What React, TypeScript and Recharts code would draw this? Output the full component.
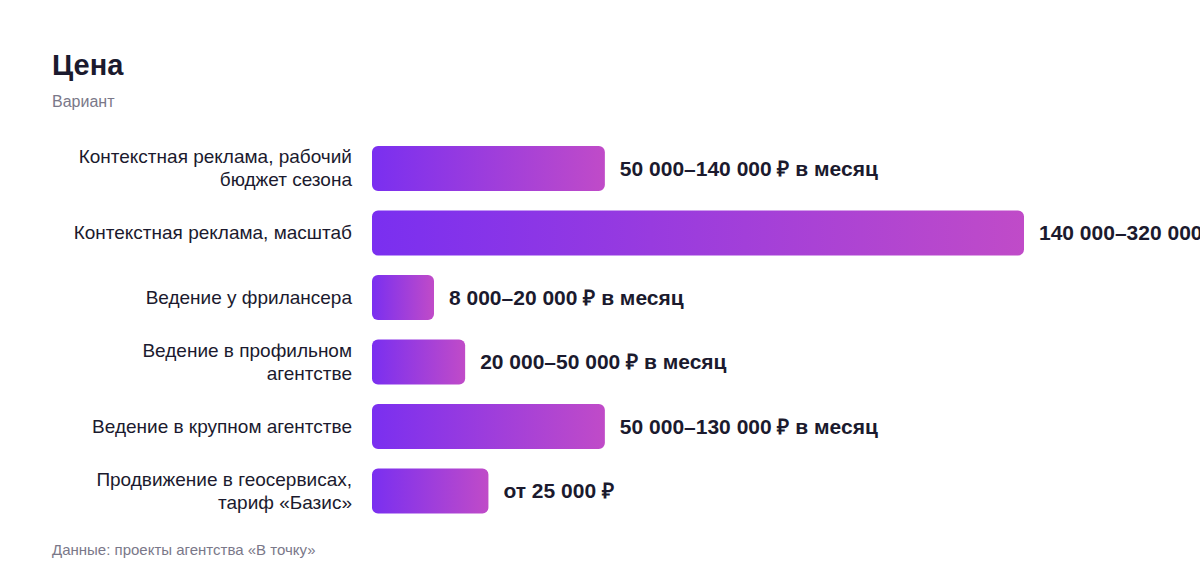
import React from 'react';
import { BarChart, Bar, XAxis, YAxis, LabelList } from 'recharts';

// categories (line breaks as in the picture)
const categories = [
  'Контекстная реклама, рабочий\nбюджет сезона',
  'Контекстная реклама, масштаб',
  'Ведение у фрилансера',
  'Ведение в профильном\nагентстве',
  'Ведение в крупном агентстве',
  'Продвижение в геосервисах,\nтариф «Базис»',
];

// lower bound of each price range, ₽
const priceFrom = [50000, 140000, 8000, 20000, 50000, 25000];

const priceLabels = [
  '50 000–140 000 ₽ в месяц',
  '140 000–320 000 ₽ в месяц',
  '8 000–20 000 ₽ в месяц',
  '20 000–50 000 ₽ в месяц',
  '50 000–130 000 ₽ в месяц',
  'от 25 000 ₽',
];

const data = categories.map((name, i) => ({ name, value: priceFrom[i], label: priceLabels[i] }));

const FONT = '"Liberation Sans", Arial, sans-serif';
const DARK = '#1b1a2e';
const GREY = '#7a7889';

const CategoryTick = (props: any) => {
  const { x, y, payload } = props;
  const lines: string[] = String(payload.value).split('\n');
  const lh = 23;
  const start = y - ((lines.length - 1) * lh) / 2;
  return (
    <text x={x} y={start} textAnchor="end" fontSize={19} fill={DARK} fontFamily={FONT}>
      {lines.map((l, i) => (
        <tspan key={i} x={x} y={start + i * lh} dy="0.35em">
          {l}
        </tspan>
      ))}
    </text>
  );
};

const ValueLabel = (props: any) => {
  const { x, y, width, height, value } = props;
  return (
    <text
      x={x + width + 15}
      y={y + height / 2}
      dy="0.35em"
      fontSize={21}
      fontWeight={700}
      fill={DARK}
      fontFamily={FONT}
    >
      {value}
    </text>
  );
};

export default function App() {
  return (
    <div style={{ position: 'absolute', left: 0, top: 0, width: 1200, height: 584, overflow: 'hidden', background: '#fff', fontFamily: FONT }}>
      <div style={{ position: 'absolute', left: 52, top: 49, fontSize: 29, lineHeight: 1.15, fontWeight: 700, color: DARK }}>Цена</div>
      <div style={{ position: 'absolute', left: 52, top: 93, fontSize: 16, lineHeight: 1.15, color: GREY }}>Вариант</div>
      <BarChart
        width={1200}
        height={584}
        data={data}
        layout="vertical"
        margin={{ top: 136, right: 176, bottom: 61, left: 0 }}
      >
        <defs>
          <linearGradient id="barGrad" x1="0" y1="0" x2="1" y2="0">
            <stop offset="0%" stopColor="#7a2ff0" />
            <stop offset="100%" stopColor="#c04bc8" />
          </linearGradient>
        </defs>
        <XAxis type="number" hide domain={[0, 140000]} />
        <YAxis
          type="category"
          dataKey="name"
          width={372}
          axisLine={false}
          tickLine={false}
          tickSize={0}
          tickMargin={20}
          tick={<CategoryTick />}
          interval={0}
        />
        <Bar dataKey="value" fill="url(#barGrad)" barSize={45} radius={6} minPointSize={62} isAnimationActive={false}>
          <LabelList dataKey="label" content={<ValueLabel />} />
        </Bar>
      </BarChart>
      <div style={{ position: 'absolute', left: 52, top: 541, fontSize: 15, lineHeight: 1.15, color: GREY }}>
        Данные: проекты агентства «В точку»
      </div>
    </div>
  );
}
